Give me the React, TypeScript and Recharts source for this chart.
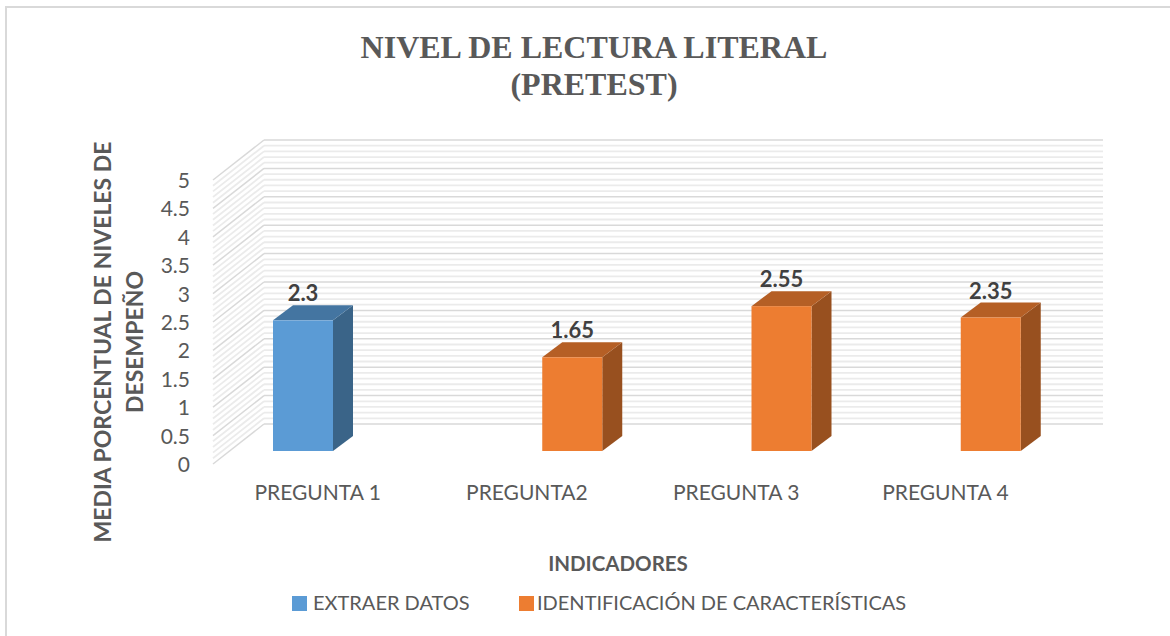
import { BarChart, Bar, XAxis, YAxis, CartesianGrid, Legend, LabelList, Label, ReferenceLine } from "recharts";

const categories = ["PREGUNTA 1", "PREGUNTA2", "PREGUNTA 3", "PREGUNTA 4"];
const extraerDatos = [2.3, null, null, null];
const identificacion = [null, 1.65, 2.55, 2.35];
const yTicks = [0, 0.5, 1, 1.5, 2, 2.5, 3, 3.5, 4, 4.5, 5];
const minorGrid = [
    0.1, 0.2, 0.3, 0.4, 0.6, 0.7, 0.8, 0.9, 1.1, 1.2, 1.3, 1.4, 1.6, 1.7, 1.8, 1.9, 2.1, 2.2, 2.3, 2.4, 2.6, 2.7, 2.8,
    2.9, 3.1, 3.2, 3.3, 3.4, 3.6, 3.7, 3.8, 3.9, 4.1, 4.2, 4.3, 4.4, 4.6, 4.7, 4.8, 4.9,
];

const chartData = categories.map((name, i) => ({
    name,
    extraer: extraerDatos[i],
    identificacion: identificacion[i],
}));

const colors = {
    text: "#595959",
    label: "#404040",
    blue: "#5B9BD5",
    blueTop: "#4475A1",
    blueSide: "#3A6488",
    orange: "#ED7D31",
    orangeTop: "#B55F25",
    orangeSide: "#98501F",
    major: "#D9D9D9",
    minor: "#EBEBEB",
};

const sans = "Lato, sans-serif";

// fake 3d: how far the box depth and the floor are pushed
const depth = { x: 20, y: -15 };
const wall = { backX: 36, backY: -27, frontX: -15, frontY: 13 };

const wallLine = (stroke: string, width: number) => (props: any) => {
    const { x1, x2, y1 } = props;
    const backY = y1 + wall.backY;
    return (
        <g key={props.key}>
            <line
                x1={x1 + wall.frontX}
                y1={y1 + wall.frontY}
                x2={x1 + wall.backX}
                y2={backY}
                stroke={stroke}
                strokeWidth={width}
            />
            <line
                x1={x1 + wall.backX}
                y1={backY}
                x2={x2 + wall.backX + 2}
                y2={backY}
                stroke={stroke}
                strokeWidth={width}
            />
        </g>
    );
};

const Box3D = (front: string, top: string, side: string) => (props: any) => {
    const { x, y, width, height } = props;
    if (!height) return <g />;
    const dx = depth.x;
    const dy = depth.y;
    return (
        <g>
            <polygon
                points={`${x + width},${y} ${x + width + dx},${y + dy} ${x + width + dx},${y + height + dy} ${x + width},${y + height}`}
                fill={side}
            />
            <polygon points={`${x},${y} ${x + dx},${y + dy} ${x + width + dx},${y + dy} ${x + width},${y}`} fill={top} />
            <rect x={x} y={y} width={width} height={height} fill={front} />
        </g>
    );
};

const ValueLabel = (props: any) => {
    const { x, y, width, value } = props;
    if (value === null || value === undefined) return null;
    return (
        <text
            x={x + width / 2}
            y={y - 19}
            textAnchor="middle"
            fontFamily={sans}
            fontWeight={700}
            fontSize={22}
            fill={colors.label}
        >
            {value}
        </text>
    );
};

const XTick = (props: any) => (
    <text x={props.x - 15} y={500} textAnchor="middle" fontFamily={sans} fontSize={21} fill={colors.text}>
        {props.payload.value}
    </text>
);

const YTick = (props: any) => (
    <text x={190} y={props.y + 21} textAnchor="end" fontFamily={sans} fontSize={21} fill={colors.text}>
        {props.payload.value}
    </text>
);

const LegendRow = (props: any) => {
    const lefts = [292, 519];
    return (
        <div style={{ position: "relative", height: 26, fontFamily: sans, fontSize: 20, color: colors.text }}>
            {props.payload.map((item: any, i: number) => (
                <span
                    key={item.value}
                    style={{ position: "absolute", left: lefts[i], top: 0, whiteSpace: "nowrap", lineHeight: "26px" }}
                >
                    <span
                        style={{
                            display: "inline-block",
                            width: 15,
                            height: 15,
                            marginRight: i === 0 ? 6 : 3,
                            background: item.color,
                            verticalAlign: "-1px",
                        }}
                    />
                    {item.value}
                </span>
            ))}
        </div>
    );
};

export default function App() {
    return (
        <div style={{ position: "absolute", left: 0, top: 0, width: 1170, height: 636, background: "#fff" }}>
            <div
                style={{
                    position: "absolute",
                    left: 5,
                    top: 6,
                    width: 1165,
                    height: 630,
                    borderLeft: "2px solid #D9D9D9",
                    borderTop: "2px solid #D9D9D9",
                    boxSizing: "border-box",
                }}
            />
            <div style={{ position: "absolute", left: 0, top: 0 }}>
                <BarChart
                    width={1170}
                    height={636}
                    data={chartData}
                    margin={{ top: 167, right: 105, bottom: 158, left: 227 }}
                    barGap={0}
                    barSize={60}
                    barCategoryGap={45}
                >
                    {/* the grid drops lines that sit too close, so the minor ones are reference lines */}
                    {minorGrid.map((v) => (
                        <ReferenceLine key={v} y={v} shape={wallLine(colors.minor, 1.8)} zIndex={-100} />
                    ))}
                    <CartesianGrid vertical={false} horizontalValues={yTicks} horizontal={wallLine(colors.major, 1.5)} />
                    <XAxis
                        dataKey="name"
                        axisLine={false}
                        tickLine={false}
                        tick={<XTick />}
                        height={1}
                        interval={0}
                    >
                        <Label
                            value="INDICADORES"
                            content={() => (
                                <text
                                    x={618}
                                    y={571}
                                    textAnchor="middle"
                                    fontFamily={sans}
                                    fontWeight={700}
                                    fontSize={20.5}
                                    fill={colors.text}
                                >
                                    INDICADORES
                                </text>
                            )}
                        />
                    </XAxis>
                    <YAxis domain={[0, 5]} ticks={yTicks} axisLine={false} tickLine={false} tick={<YTick />} width={1}>
                        <Label
                            value="MEDIA PORCENTUAL DE NIVELES DE DESEMPEÑO"
                            content={() => (
                                <text
                                    transform="translate(121 342) rotate(-90)"
                                    textAnchor="middle"
                                    fontFamily={sans}
                                    fontWeight={700}
                                    fontSize={23}
                                    fill={colors.text}
                                >
                                    <tspan x={0} dy={-10}>
                                        MEDIA PORCENTUAL DE NIVELES DE
                                    </tspan>
                                    <tspan x={0} dy={32}>
                                        DESEMPEÑO
                                    </tspan>
                                </text>
                            )}
                        />
                    </YAxis>
                    <Legend verticalAlign="bottom" wrapperStyle={{ left: 0, width: 1170, bottom: 21 }} content={<LegendRow />} />
                    <Bar
                        dataKey="extraer"
                        name="EXTRAER DATOS"
                        fill={colors.blue}
                        shape={Box3D(colors.blue, colors.blueTop, colors.blueSide)}
                        isAnimationActive={false}
                    >
                        <LabelList dataKey="extraer" content={<ValueLabel />} />
                    </Bar>
                    <Bar
                        dataKey="identificacion"
                        name="IDENTIFICACIÓN DE CARACTERÍSTICAS"
                        fill={colors.orange}
                        shape={Box3D(colors.orange, colors.orangeTop, colors.orangeSide)}
                        isAnimationActive={false}
                    >
                        <LabelList dataKey="identificacion" content={<ValueLabel />} />
                    </Bar>
                    <text
                        x={594}
                        textAnchor="middle"
                        fontFamily="'Liberation Serif', serif"
                        fontWeight={700}
                        fontSize={32}
                        fill={colors.text}
                    >
                        <tspan x={594} y={58}>
                            NIVEL DE LECTURA LITERAL
                        </tspan>
                        <tspan x={594} y={95}>
                            (PRETEST)
                        </tspan>
                    </text>
                </BarChart>
            </div>
        </div>
    );
}
